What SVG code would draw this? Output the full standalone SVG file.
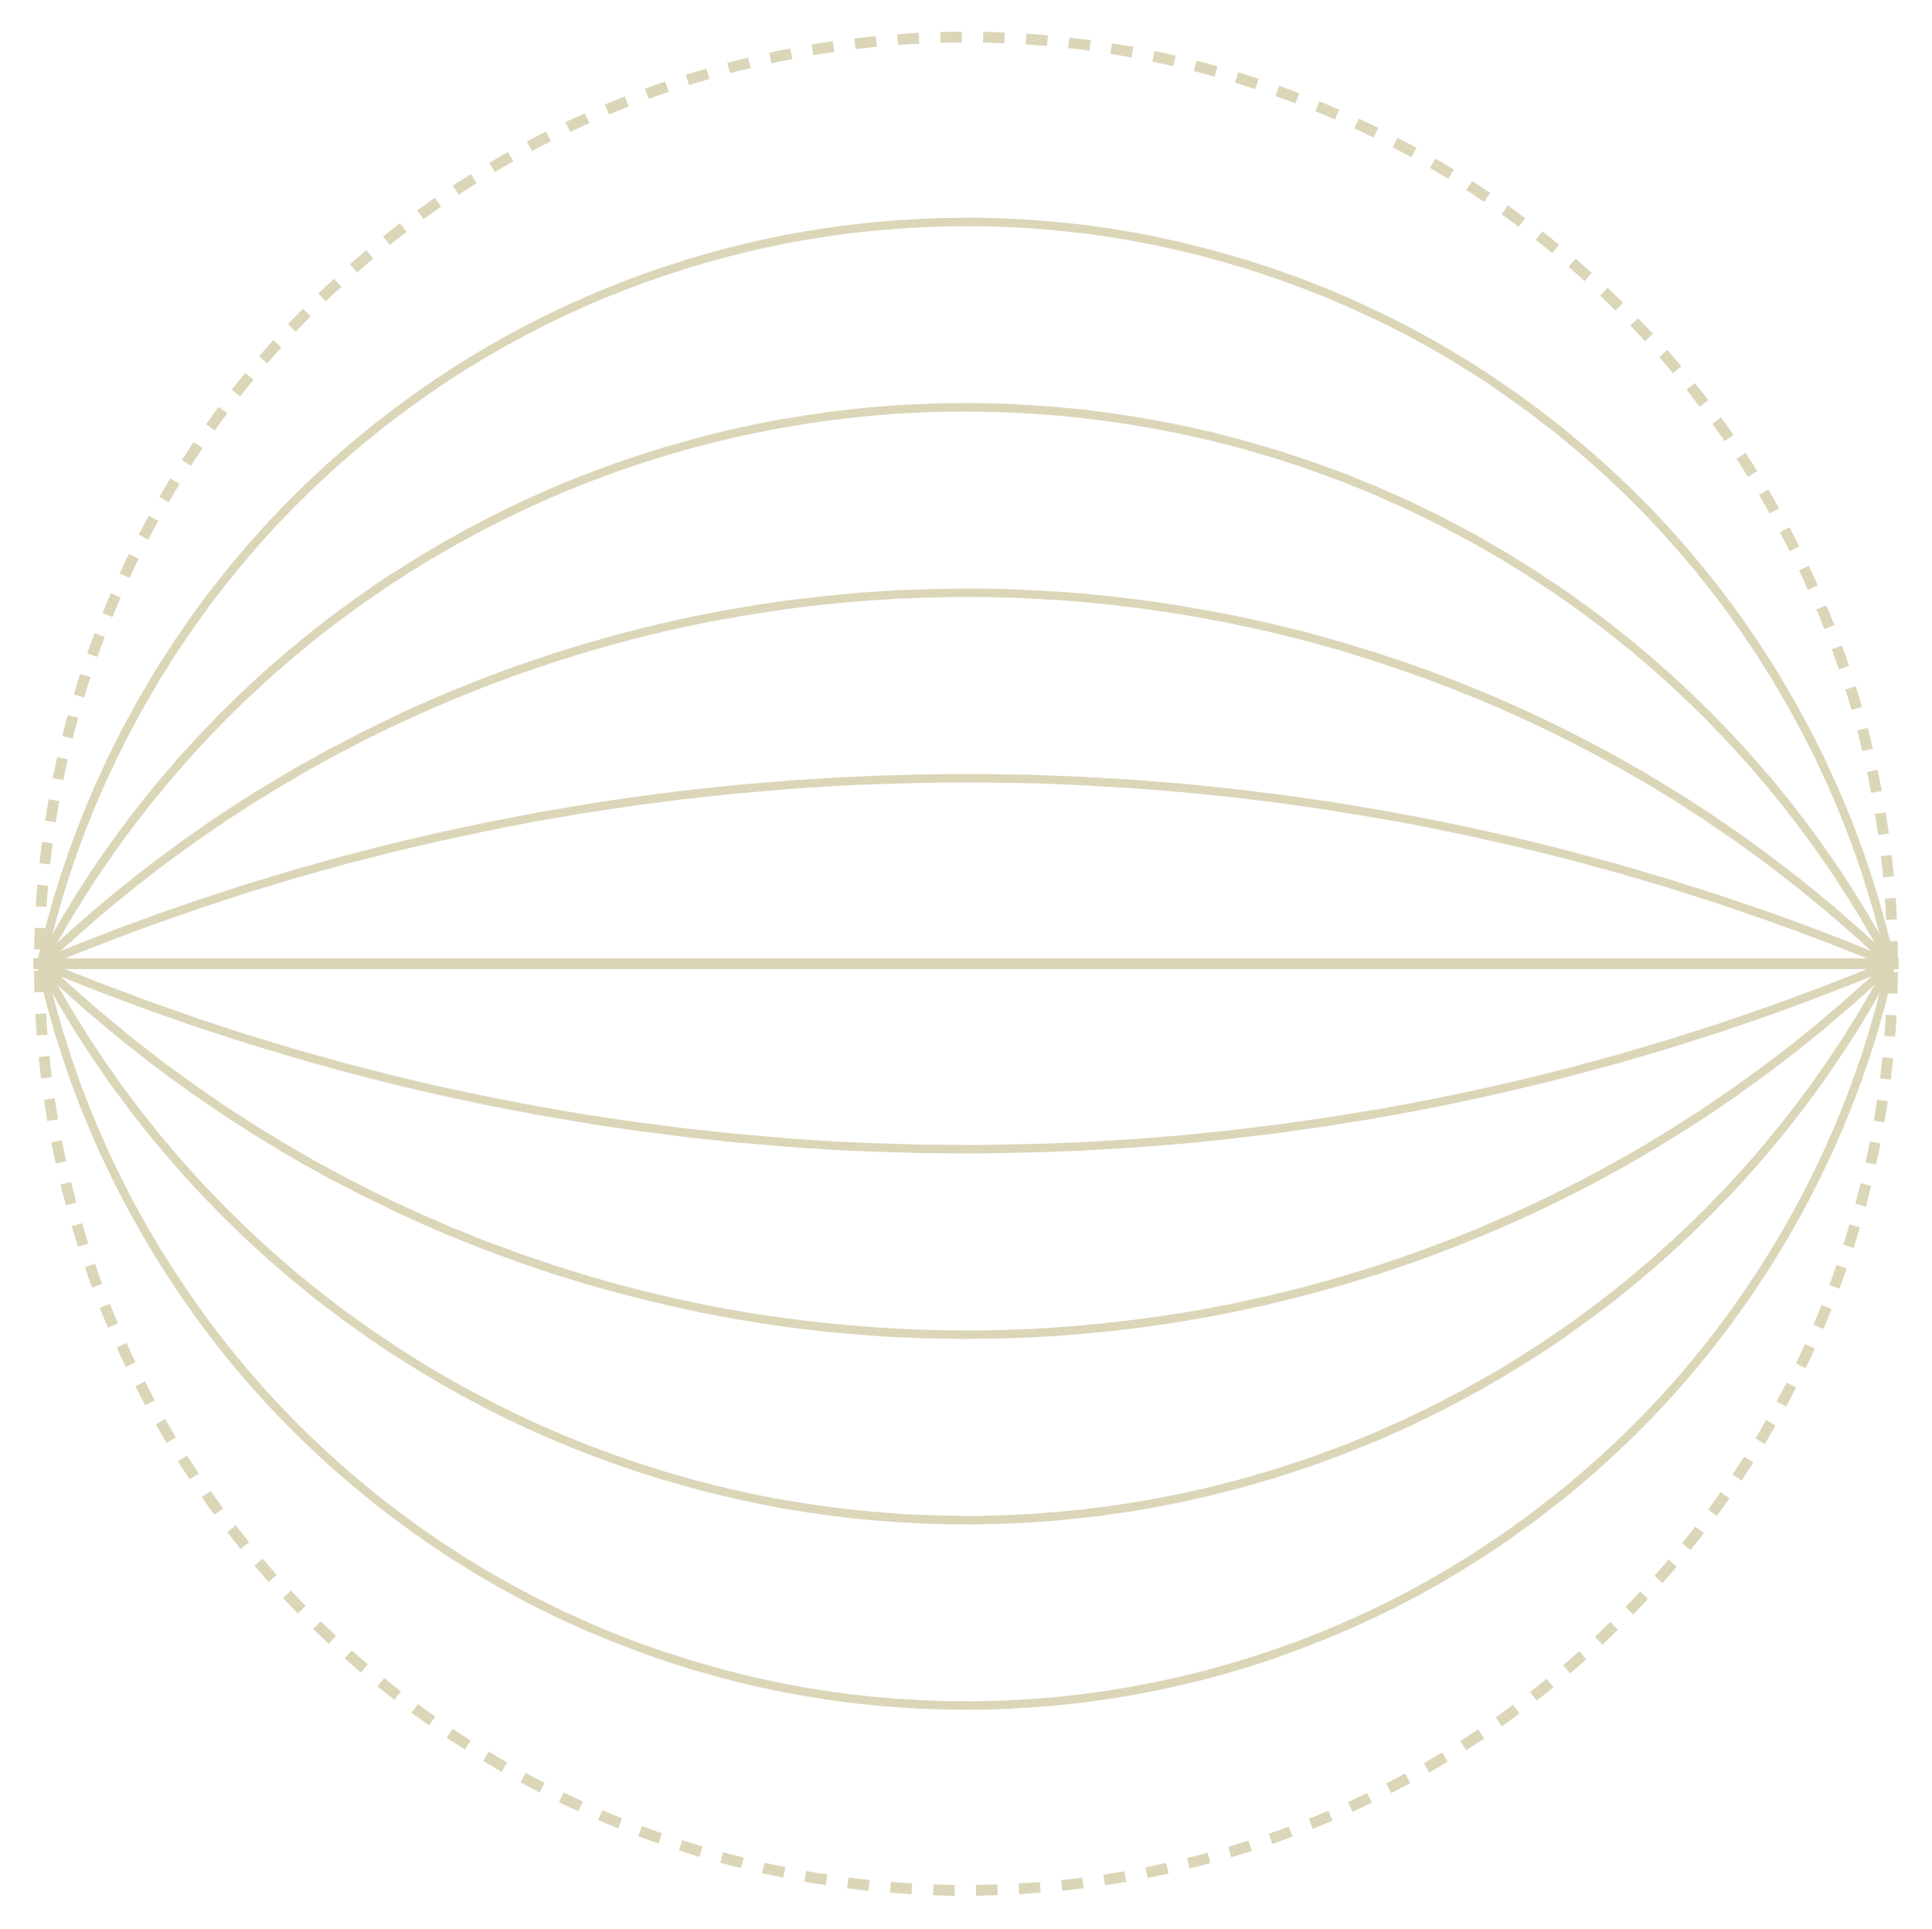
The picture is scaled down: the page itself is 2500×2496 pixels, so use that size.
<svg xmlns="http://www.w3.org/2000/svg" width="2500" height="2496" viewBox="0 0 2500 2496">
  <style>
    .ring { fill: none; stroke: #DCD6B9; stroke-width: 14; stroke-dasharray: 27.75 27.75; stroke-dashoffset: -10.9; }
    .arc { fill: none; stroke: #DCD6B9; stroke-width: 11; }
    .axis { fill: none; stroke: #DCD6B9; stroke-width: 14; }
  </style>
  <rect width="2500" height="2496" fill="#FFFFFF"/>
  <g id="outer-ring">
    <circle class="ring" cx="1250" cy="1247" r="1199"/>
  </g>
  <g id="connectors">
    <path class="arc" d="M 53 1247 A 1226.3 1226.3 0 0 1 2447 1247"/>
    <path class="arc" d="M 53 1247 A 1355 1355 0 0 1 2447 1247"/>
    <path class="arc" d="M 53 1247 A 1732.5 1732.5 0 0 1 2447 1247"/>
    <path class="arc" d="M 53 1247 A 3105 3105 0 0 1 2447 1247"/>
    <line class="axis" x1="43" y1="1247" x2="2457" y2="1247"/>
    <path class="arc" d="M 53 1247 A 3105 3105 0 0 0 2447 1247"/>
    <path class="arc" d="M 53 1247 A 1732.5 1732.5 0 0 0 2447 1247"/>
    <path class="arc" d="M 53 1247 A 1355 1355 0 0 0 2447 1247"/>
    <path class="arc" d="M 53 1247 A 1226.3 1226.3 0 0 0 2447 1247"/>
  </g>
</svg>
